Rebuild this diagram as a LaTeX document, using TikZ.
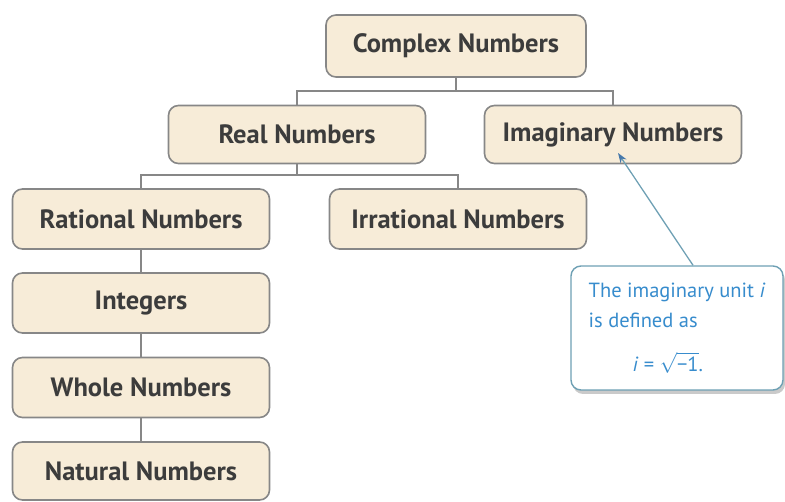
\documentclass[tikz,border=0pt]{standalone}
\usepackage{fontspec}
\setmainfont{PT Sans}
\usetikzlibrary{shadows,arrows.meta}
\definecolor{boxfill}{RGB}{247,236,216}
\definecolor{boxline}{RGB}{135,135,135}
\definecolor{boxtext}{RGB}{60,60,60}
\definecolor{calloutblue}{RGB}{55,140,205}
\definecolor{calloutline}{RGB}{110,160,180}
\definecolor{arrowblue}{RGB}{70,120,170}
\tikzset{
  catbox/.style={draw=boxline, line width=1.6pt, fill=boxfill, rounded corners=10pt,
    minimum width=257pt, minimum height=58pt, inner sep=0pt, text=boxtext,
    font=\fontsize{26.5}{30}\selectfont\bfseries},
  conn/.style={draw=boxline, line width=1.6pt},
  callout/.style={draw=calloutline, line width=1.4pt, fill=white, rounded corners=10pt,
    minimum width=212pt, minimum height=124pt, inner sep=0pt, text=calloutblue,
    drop shadow={shadow xshift=2pt, shadow yshift=-4pt, fill=black!35, opacity=0.6},
    font=\fontsize{20.5}{30}\selectfont, align=left},
  pointer/.style={draw=calloutline, line width=1.3pt, -{Stealth[length=10pt,width=7pt,color=arrowblue]}}
}
\begin{document}
\begin{tikzpicture}[x=1pt,y=-1pt]
\useasboundingbox (0,0) rectangle (785,502);
\node[catbox, minimum width=260pt, minimum height=62pt] (complex) at (456,46) {Complex Numbers};
\node[catbox] (real) at (297,134.5) {Real Numbers};
\node[catbox] (imag) at (613,134.5) {Imaginary Numbers};
\node[catbox, minimum height=60pt] (rational) at (141,219) {Rational Numbers};
\node[catbox, minimum height=60pt] (irrational) at (458,219) {Irrational Numbers};
\node[catbox, minimum height=60pt] (integers) at (141,303) {Integers};
\node[catbox, minimum height=60pt] (whole) at (141,387.5) {Whole Numbers};
\node[catbox] (natural) at (141,471) {Natural Numbers};
% connectors
\coordinate (j1) at (456,91);
\draw[conn] (complex.south) -- (j1);
\draw[conn] (real.north) |- (j1) -| (imag.north);
\coordinate (j2) at (297,175);
\draw[conn] (real.south) -- (j2);
\draw[conn] (rational.north) |- (j2) -| (irrational.north);
\draw[conn] (rational.south) -- (integers.north);
\draw[conn] (integers.south) -- (whole.north);
\draw[conn] (whole.south) -- (natural.north);
% callout
\node[callout] (note) at (677,328) {The imaginary unit \textit{i}\\is defined as\\[14pt]\hspace*{44pt}\textit{i} = $\sqrt{\mbox{−1}}$.};
\coordinate (tip) at (618,153);
\draw[pointer] (note.north -| 693,0) -- (tip);
\end{tikzpicture}
\end{document}
